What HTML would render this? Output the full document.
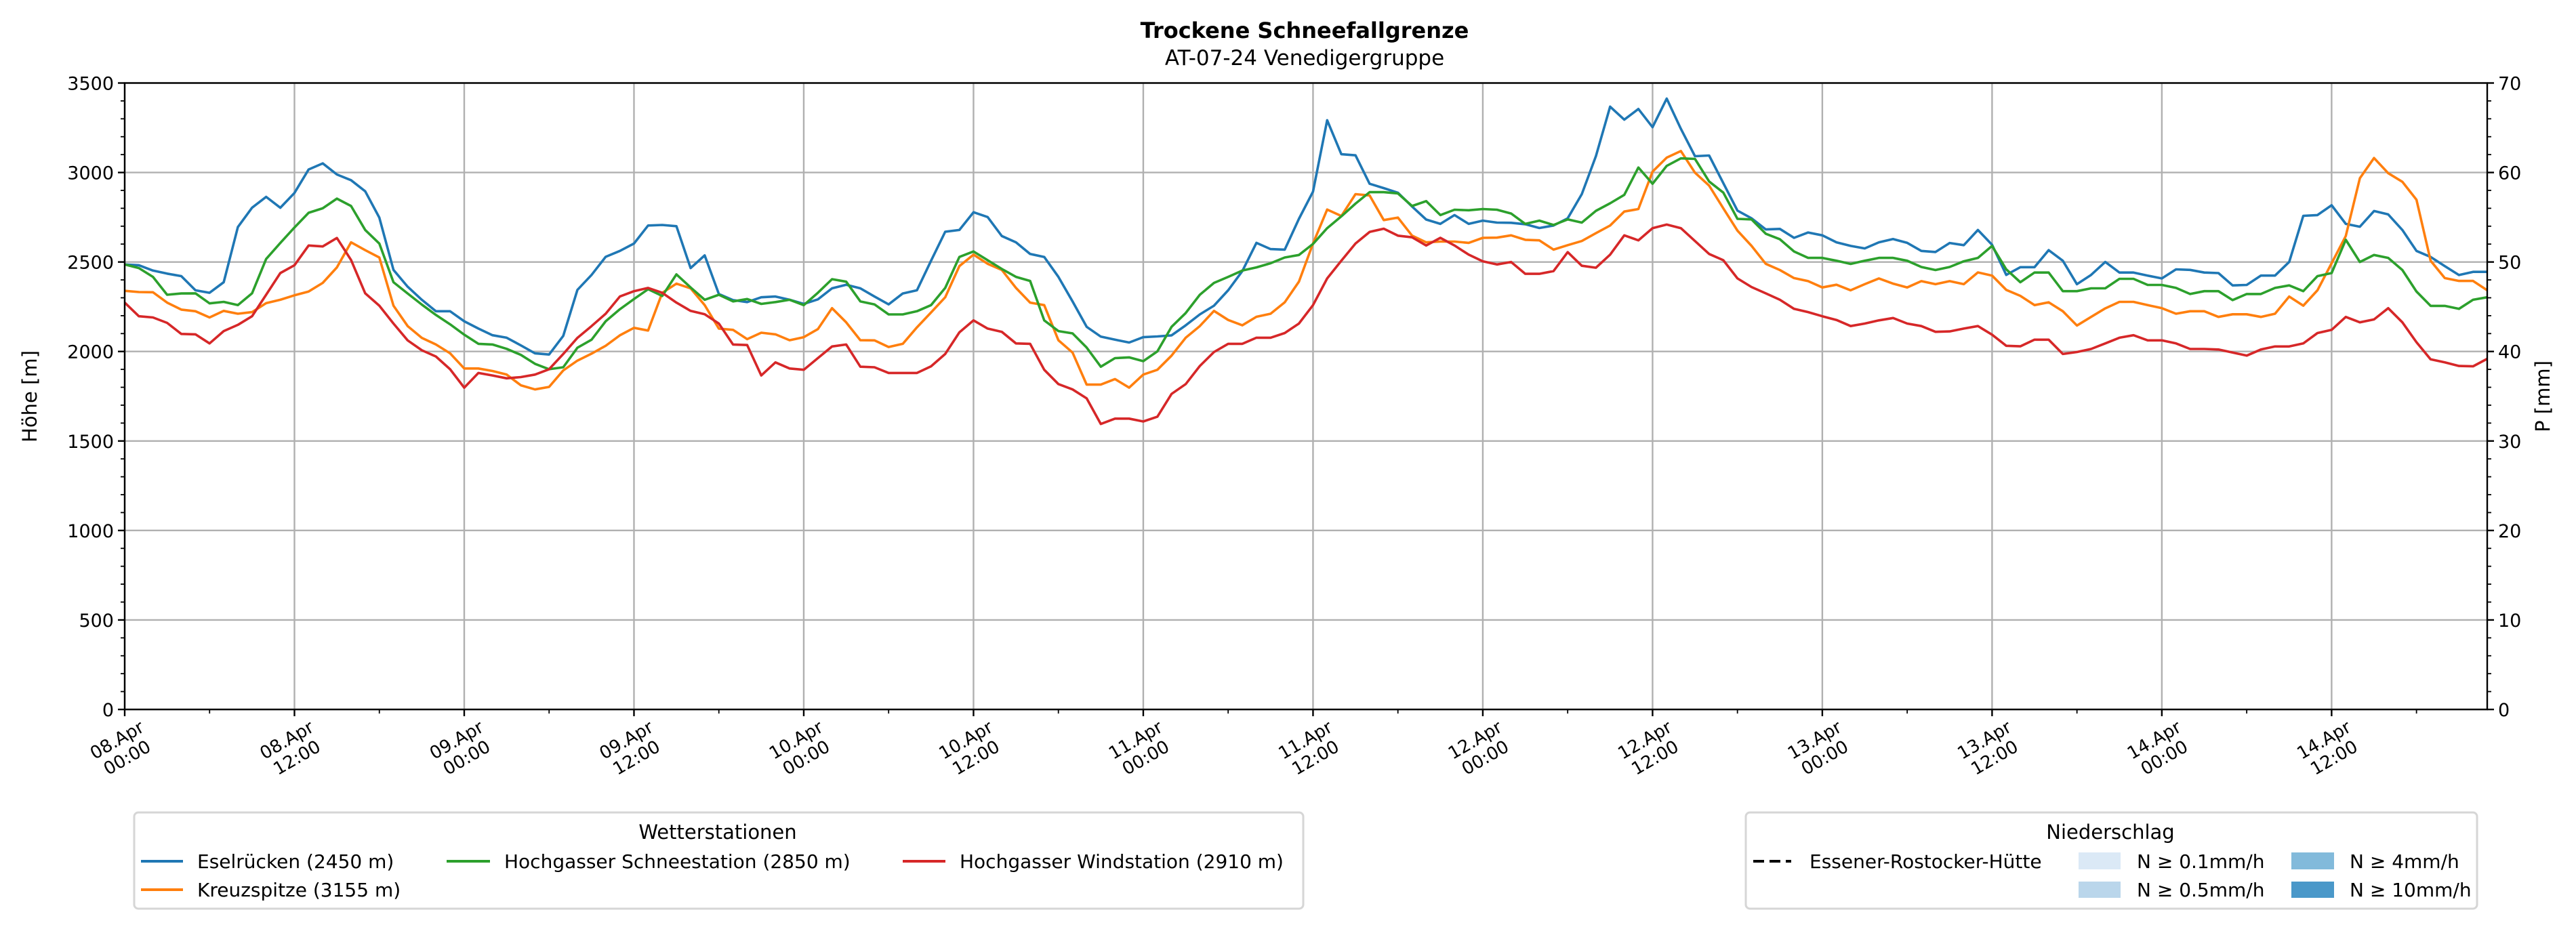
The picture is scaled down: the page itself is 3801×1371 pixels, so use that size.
<!DOCTYPE html>
<html><head><meta charset="utf-8">
<style>
html,body{margin:0;padding:0;background:#fff;}
svg{display:block;font-family:"DejaVu Sans","Liberation Sans",sans-serif;}
</style></head>
<body>
<svg id="chart" width="3801" height="1371" viewBox="0 0 3801 1371" xmlns="http://www.w3.org/2000/svg">
<rect width="3801" height="1371" fill="#fff"/>
<text x="1925" y="56" text-anchor="middle" font-size="32" font-weight="bold">Trockene Schneefallgrenze</text>
<text x="1925" y="96" text-anchor="middle" font-size="31">AT-07-24 Venedigergruppe</text>
<g id="grid"></g>
<g id="series"></g>
<g id="axes"></g>
<text transform="translate(54,585) rotate(-90)" text-anchor="middle" font-size="29">Höhe [m]</text>
<text transform="translate(3762,585) rotate(-90)" text-anchor="middle" font-size="29">P [mm]</text>

<g>
<rect x="198" y="1199" width="1725" height="142" rx="6" fill="#fff" stroke="#d6d6d6" stroke-width="3"/>
<text x="1059" y="1238" text-anchor="middle" font-size="29">Wetterstationen</text>
<g><line x1="208" y1="1271" x2="270" y2="1271" stroke="#1f77b4" stroke-width="4"/><text x="291" y="1281" font-size="28">Eselrücken (2450 m)</text></g>
<g><line x1="208" y1="1313" x2="270" y2="1313" stroke="#ff7f0e" stroke-width="4"/><text x="291" y="1323" font-size="28">Kreuzspitze (3155 m)</text></g>
<g><line x1="659" y1="1271" x2="723" y2="1271" stroke="#2ca02c" stroke-width="4"/><text x="744" y="1281" font-size="28">Hochgasser Schneestation (2850 m)</text></g>
<g><line x1="1332" y1="1271" x2="1395" y2="1271" stroke="#d62728" stroke-width="4"/><text x="1416" y="1281" font-size="28">Hochgasser Windstation (2910 m)</text></g>
</g>

<g>
<rect x="2576" y="1199" width="1079" height="142" rx="6" fill="#fff" stroke="#d6d6d6" stroke-width="3"/>
<text x="3114" y="1238" text-anchor="middle" font-size="29">Niederschlag</text>
<g><line x1="2587" y1="1271" x2="2643" y2="1271" stroke="#000" stroke-width="4" stroke-dasharray="16,8"/><text x="2670" y="1281" font-size="28">Essener-Rostocker-Hütte</text></g>
<g><rect x="3067" y="1258" width="62" height="25" fill="#dbe9f6"/><text x="3153" y="1281" font-size="28">N ≥ 0.1mm/h</text></g>
<g><rect x="3067" y="1301" width="62" height="24" fill="#bad6eb"/><text x="3153" y="1323" font-size="28">N ≥ 0.5mm/h</text></g>
<g><rect x="3381" y="1258" width="63" height="25" fill="#82badb"/><text x="3467" y="1281" font-size="28">N ≥ 4mm/h</text></g>
<g><rect x="3381" y="1301" width="63" height="24" fill="#4a98c9"/><text x="3467" y="1323" font-size="28">N ≥ 10mm/h</text></g>
</g>
</svg>
<script>
const eselruecken=[2486,2482,2452,2435,2421,2342,2328,2387,2695,2803,2864,2803,2886,3017,3051,2989,2957,2895,2748,2456,2362,2289,2225,2225,2169,2128,2091,2077,2034,1990,1983,2087,2344,2428,2529,2562,2603,2704,2707,2700,2466,2537,2321,2287,2276,2303,2307,2289,2266,2291,2353,2373,2353,2307,2263,2324,2342,2507,2669,2679,2778,2751,2645,2610,2545,2528,2417,2280,2138,2083,2066,2050,2080,2084,2090,2146,2207,2256,2342,2449,2607,2572,2569,2741,2893,3292,3102,3096,2937,2913,2887,2810,2737,2713,2762,2713,2731,2720,2719,2711,2690,2704,2744,2879,3092,3368,3295,3355,3253,3413,3244,3091,3095,2941,2787,2744,2682,2685,2635,2665,2649,2610,2590,2576,2610,2628,2607,2562,2556,2606,2594,2679,2596,2428,2471,2471,2566,2507,2376,2428,2500,2441,2441,2424,2408,2459,2456,2441,2438,2369,2372,2424,2424,2500,2758,2762,2817,2713,2697,2785,2766,2679,2562,2528,2477,2427,2445,2445];
const kreuzspitze=[2339,2332,2331,2273,2234,2225,2190,2227,2211,2220,2270,2289,2314,2335,2383,2470,2610,2566,2525,2256,2142,2076,2039,1990,1905,1905,1891,1871,1811,1788,1802,1894,1949,1988,2032,2090,2132,2117,2328,2379,2353,2259,2128,2121,2069,2105,2096,2063,2080,2125,2242,2163,2063,2062,2025,2043,2135,2218,2303,2477,2541,2490,2456,2355,2273,2259,2063,1994,1815,1815,1846,1798,1871,1898,1977,2077,2142,2227,2176,2146,2194,2211,2275,2390,2603,2793,2757,2879,2872,2734,2748,2647,2610,2614,2614,2607,2635,2636,2649,2624,2621,2569,2594,2617,2661,2704,2782,2796,3005,3083,3120,2999,2927,2800,2675,2590,2490,2455,2410,2393,2358,2373,2342,2376,2408,2379,2358,2393,2376,2393,2376,2442,2424,2344,2311,2259,2275,2225,2145,2193,2241,2277,2277,2259,2242,2211,2225,2225,2193,2208,2208,2193,2211,2307,2256,2342,2493,2645,2968,3081,2996,2948,2848,2507,2410,2394,2394,2342];
const schneestation=[2486,2466,2417,2317,2324,2325,2269,2277,2259,2325,2517,2606,2693,2775,2800,2854,2813,2679,2603,2387,2324,2262,2204,2152,2094,2043,2039,2015,1981,1931,1901,1912,2021,2066,2169,2236,2293,2348,2310,2431,2358,2289,2317,2280,2293,2266,2276,2289,2259,2328,2404,2390,2280,2263,2207,2207,2225,2259,2355,2528,2559,2510,2461,2417,2394,2174,2114,2101,2022,1915,1963,1967,1946,2001,2138,2215,2317,2383,2417,2452,2470,2493,2525,2539,2601,2689,2755,2826,2890,2890,2883,2813,2840,2762,2792,2789,2796,2792,2771,2713,2731,2707,2738,2720,2786,2828,2875,3028,2937,3037,3079,3076,2950,2888,2741,2738,2658,2627,2559,2523,2523,2507,2489,2507,2523,2523,2507,2472,2455,2472,2504,2523,2590,2459,2387,2441,2441,2337,2337,2353,2353,2406,2406,2372,2372,2355,2321,2337,2337,2287,2321,2321,2355,2369,2337,2421,2438,2624,2500,2539,2523,2455,2335,2255,2255,2238,2289,2303];
const windstation=[2273,2197,2190,2160,2098,2096,2045,2114,2149,2197,2317,2438,2482,2592,2587,2634,2511,2325,2256,2156,2062,2007,1972,1901,1798,1880,1866,1850,1857,1871,1901,1986,2076,2142,2211,2307,2337,2355,2328,2273,2227,2208,2156,2039,2036,1866,1939,1905,1898,1963,2028,2039,1915,1912,1880,1880,1880,1917,1986,2107,2174,2128,2110,2045,2043,1898,1818,1788,1738,1595,1625,1625,1609,1636,1763,1818,1919,1997,2043,2043,2077,2077,2103,2156,2259,2408,2507,2603,2668,2686,2647,2638,2592,2635,2592,2541,2504,2486,2500,2434,2434,2449,2555,2479,2468,2541,2649,2621,2689,2709,2689,2617,2545,2510,2408,2360,2325,2289,2238,2220,2197,2176,2142,2156,2174,2187,2156,2142,2110,2112,2128,2142,2094,2032,2029,2066,2066,1986,1997,2014,2045,2077,2091,2062,2062,2045,2014,2014,2011,1994,1977,2011,2028,2028,2045,2103,2121,2193,2163,2179,2242,2163,2052,1956,1939,1919,1917,1959];
const yTicks=[0,500,1000,1500,2000,2500,3000,3500];
const y2Ticks=[0,10,20,30,40,50,60,70];
const xTickDays=["08.Apr","08.Apr","09.Apr","09.Apr","10.Apr","10.Apr","11.Apr","11.Apr","12.Apr","12.Apr","13.Apr","13.Apr","14.Apr","14.Apr"];
const xTickTimes=["00:00","12:00","00:00","12:00","00:00","12:00","00:00","12:00","00:00","12:00","00:00","12:00","00:00","12:00"];

const NS="http://www.w3.org/2000/svg";
const L=184,R=3670,T=122.5,B=1047,HMAX=167,YMAX=3500,Y2MAX=70;
const xs=h=>L+(R-L)*h/HMAX;
const ys=v=>B-(B-T)*v/YMAX;
const y2s=v=>B-(B-T)*v/Y2MAX;
function mk(tag,attrs,parent){const e=document.createElementNS(NS,tag);for(const k in attrs)e.setAttribute(k,attrs[k]);parent.appendChild(e);return e;}
const grid=document.getElementById('grid'),axes=document.getElementById('axes'),ser=document.getElementById('series');

yTicks.forEach(v=>{
  const g=mk('line',{x1:L,x2:R,y1:ys(v),y2:ys(v),stroke:'#b0b0b0','stroke-width':2.4},grid);
  
  
  const t=mk('line',{x1:L-10,x2:L,y1:ys(v),y2:ys(v),stroke:'#000','stroke-width':2.4},axes);
  
  
  const lb=mk('text',{x:L-16,y:ys(v)+10,'text-anchor':'end','font-size':27},axes);
  lb.textContent=v;
  
  
});
for(let v=0;v<=YMAX;v+=100){ if(v%500===0)continue;
  mk('line',{x1:L-6,x2:L,y1:ys(v),y2:ys(v),stroke:'#000','stroke-width':1.8},axes);}
y2Ticks.forEach(v=>{
  mk('line',{x1:R,x2:R+10,y1:y2s(v),y2:y2s(v),stroke:'#000','stroke-width':2.4},axes);
  const lb=mk('text',{x:R+16,y:y2s(v)+10,'font-size':27},axes);
  lb.textContent=v;
  
  
});
for(let v=0;v<=Y2MAX;v+=2){ if(v%10===0)continue;
  mk('line',{x1:R,x2:R+6,y1:y2s(v),y2:y2s(v),stroke:'#000','stroke-width':1.8},axes);}
xTickDays.forEach((d,i)=>{
  const h=i*12,x=xs(h);
  const g=mk('line',{x1:x,x2:x,y1:T,y2:B,stroke:'#b0b0b0','stroke-width':2.4},grid);
  
  
  mk('line',{x1:x,x2:x,y1:B,y2:B+10,stroke:'#000','stroke-width':2.4},axes);
  const t=mk('text',{transform:`translate(${x-4},${B+58}) rotate(-30)`,'text-anchor':'middle','font-size':26},axes);
  
  
  mk('tspan',{x:0,y:-6},t).textContent=d;
  mk('tspan',{x:0,y:24},t).textContent=xTickTimes[i];
});
for(let h=6;h<=HMAX;h+=12){const x=xs(h);mk('line',{x1:x,x2:x,y1:B,y2:B+6,stroke:'#000','stroke-width':1.8},axes);}
const frame=mk('rect',{x:L,y:T,width:R-L,height:B-T,fill:'none',stroke:'#000','stroke-width':2.4},axes);



[[eselruecken,'#1f77b4','line-eselruecken'],[kreuzspitze,'#ff7f0e','line-kreuzspitze'],[schneestation,'#2ca02c','line-schneestation'],[windstation,'#d62728','line-windstation']].forEach(([arr,c,n])=>{
  const pts=arr.map((v,h)=>xs(h).toFixed(1)+','+ys(v).toFixed(1)).join(' ');
  const p=mk('polyline',{points:pts,fill:'none',stroke:c,'stroke-width':3.6,'stroke-linejoin':'round'},ser);
  
  
});
</script>
</body></html>
